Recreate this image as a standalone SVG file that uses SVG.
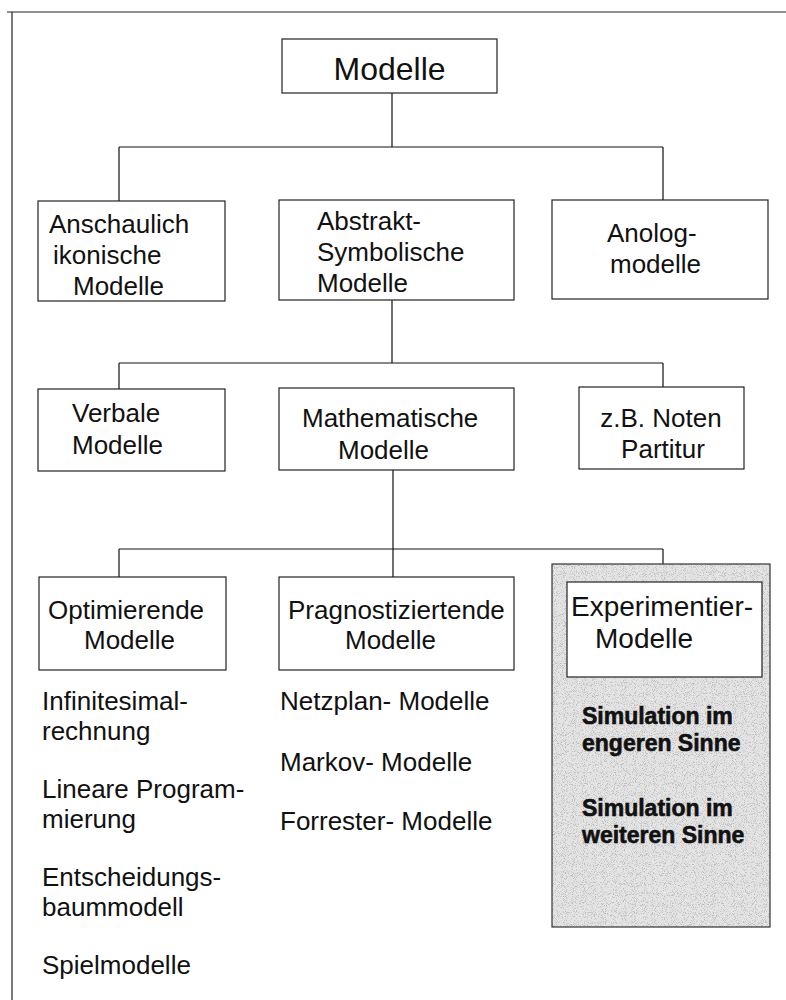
<svg xmlns="http://www.w3.org/2000/svg" width="786" height="1000" viewBox="0 0 786 1000">
  <style>
    .box { fill: #ffffff; stroke: #222; stroke-width: 1.2; }
    .frame { fill: none; stroke: #222; stroke-width: 1.2; }
    .wire { fill: none; stroke: #111; stroke-width: 1.2; }
    text { font-family: "Liberation Sans", Arial, sans-serif; fill: #111; }
    .t26 { font-size: 26px; }
    .t28 { font-size: 28px; }
    .t32 { font-size: 32px; }
    .bold { font-size: 23px; font-weight: bold; stroke: #111; stroke-width: 0.6; }
  </style>
  <defs>
    <filter id="grain" x="0" y="0" width="100%" height="100%">
      <feTurbulence type="fractalNoise" baseFrequency="1.1" numOctaves="1" seed="7" result="noise"/>
      <feColorMatrix in="noise" type="matrix" values="0 0 0 0 0  0 0 0 0 0  0 0 0 0 0  6 0 0 0 -3.1" result="dots"/>
      <feComposite in="dots" in2="SourceGraphic" operator="in"/>
    </filter>
  </defs>

  <rect width="786" height="1000" fill="#ffffff"/>

  <!-- page frame: top and left edge only -->
  <path class="frame" d="M7,12 H786 M12,12 V1000"/>

  <!-- connectors -->
  <g id="connectors">
    <path class="wire" d="M392,93 V147 M119,147 H663 M119,147 V201 M663,147 V200"/>
    <path class="wire" d="M392,300 V363 M119,363 H663 M119,363 V389 M663,363 V387"/>
    <path class="wire" d="M393,470 V549 M119,549 H663 M119,549 V577 M393,549 V577 M663,549 V564"/>
  </g>

  <g id="root">
    <rect class="box" x="282" y="39" width="215" height="54"/>
    <text class="t32" x="389.5" y="80" text-anchor="middle">Modelle</text>
  </g>

  <g id="anschaulich">
    <rect class="box" x="38" y="201" width="187" height="100"/>
    <text class="t26" x="49" y="233">Anschaulich</text>
    <text class="t26" x="53" y="264">ikonische</text>
    <text class="t26" x="73" y="295">Modelle</text>
  </g>

  <g id="abstrakt">
    <rect class="box" x="279" y="200" width="235" height="100"/>
    <text class="t26" x="317" y="230">Abstrakt-</text>
    <text class="t26" x="317" y="261">Symbolische</text>
    <text class="t26" x="317" y="292">Modelle</text>
  </g>

  <g id="analog">
    <rect class="box" x="552" y="200" width="216" height="99"/>
    <text class="t26" x="607" y="242">Anolog-</text>
    <text class="t26" x="610" y="273">modelle</text>
  </g>

  <g id="verbal">
    <rect class="box" x="38" y="389" width="187" height="82"/>
    <text class="t26" x="72" y="422">Verbale</text>
    <text class="t26" x="72" y="454">Modelle</text>
  </g>

  <g id="mathematisch">
    <rect class="box" x="279" y="388" width="235" height="82"/>
    <text class="t26" x="302" y="427">Mathematische</text>
    <text class="t26" x="338" y="459">Modelle</text>
  </g>

  <g id="noten">
    <rect class="box" x="579" y="387" width="165" height="82"/>
    <text class="t26" x="661" y="427" text-anchor="middle">z.B. Noten</text>
    <text class="t26" x="663" y="458" text-anchor="middle">Partitur</text>
  </g>

  <g id="optimierend">
    <rect class="box" x="39" y="577" width="187" height="93"/>
    <text class="t26" x="48" y="619">Optimierende</text>
    <text class="t26" x="84" y="649">Modelle</text>
    <text class="t26" x="42" y="710">Infinitesimal-</text>
    <text class="t26" x="42" y="740">rechnung</text>
    <text class="t26" x="42" y="798">Lineare Program-</text>
    <text class="t26" x="42" y="828">mierung</text>
    <text class="t26" x="42" y="886">Entscheidungs-</text>
    <text class="t26" x="42" y="916">baummodell</text>
    <text class="t26" x="42" y="974">Spielmodelle</text>
  </g>

  <g id="prognose">
    <rect class="box" x="279" y="577" width="235" height="93"/>
    <text class="t26" x="288" y="619">Pragnostiziertende</text>
    <text class="t26" x="345" y="649">Modelle</text>
    <text class="t26" x="280" y="710">Netzplan- Modelle</text>
    <text class="t26" x="280" y="771">Markov- Modelle</text>
    <text class="t26" x="280" y="830">Forrester- Modelle</text>
  </g>

  <g id="experiment">
    <rect x="552" y="564" width="218" height="363" fill="#e4e4e4" stroke="#333" stroke-width="1.2"/>
    <rect x="552" y="564" width="218" height="363" fill="#000" opacity="0.16" filter="url(#grain)"/>
    <rect class="box" x="567" y="582" width="195" height="95"/>
    <text class="t28" x="571" y="616">Experimentier-</text>
    <text class="t28" x="595" y="648">Modelle</text>
    <text class="bold" x="582" y="724">Simulation im</text>
    <text class="bold" x="582" y="751">engeren Sinne</text>
    <text class="bold" x="582" y="816">Simulation im</text>
    <text class="bold" x="582" y="843">weiteren Sinne</text>
  </g>
</svg>
